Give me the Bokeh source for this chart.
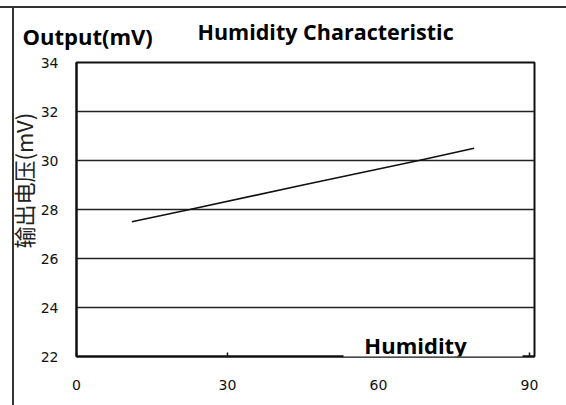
from bokeh.plotting import figure
from bokeh.models import Label, FixedTicker, Range1d, BoxAnnotation, Title
from bokeh.embed import file_html
from bokeh.resources import INLINE

# ---- data ----
humidity = [11, 22.5, 45, 68, 79]
output_mv = [27.5, 28.0, 29.0, 30.0, 30.5]
x_ticks = [0, 30, 60, 90]
y_ticks = [22, 24, 26, 28, 30, 32, 34]
title_text = "Humidity Characteristic"
y_title = "Output(mV)"
x_title = "Humidity"
y_axis_cn = "输出电压(mV)"

W, H = 566, 405
p = figure(width=W, height=H, output_backend="svg", toolbar_location=None,
           x_range=Range1d(0, 91), y_range=Range1d(22, 34),
           min_border_left=76, min_border_right=32, min_border_top=62,
           min_border_bottom=49)
# outer frame of the scanned figure: top and left edges only
p.styles = {
    "background-color": "white",
    "background-image": "linear-gradient(#333333, #333333), linear-gradient(#333333, #333333)",
    "background-size": "100% 2px, 2px 100%",
    "background-position": "0px 6px, 12px 6px",
    "background-repeat": "no-repeat",
}
p.background_fill_color = "white"
p.border_fill_color = None
p.outline_line_color = "#111111"
p.outline_line_width = 2

p.xgrid.grid_line_color = None
p.ygrid.grid_line_color = "#222222"
p.ygrid.grid_line_width = 1.6

p.xaxis.ticker = FixedTicker(ticks=x_ticks)
p.yaxis.ticker = FixedTicker(ticks=y_ticks)
for ax in (p.xaxis, p.yaxis):
    ax.axis_line_color = "#111111"
    ax.axis_line_width = 2
    ax.minor_tick_line_color = None
    ax.major_label_text_font = "DejaVu Sans"
    ax.major_label_text_font_size = "14px"
    ax.major_label_text_color = "#111111"
p.xaxis.major_tick_in = 4
p.xaxis.major_tick_out = 0
p.xaxis.major_tick_line_width = 1.5
p.xaxis.major_tick_line_color = "#111111"
p.xaxis.major_label_standoff = 23
p.yaxis.major_tick_line_color = None
p.yaxis.major_label_standoff = 12

# rotated Chinese axis caption on the left
p.add_layout(Title(text=y_axis_cn, align="left", offset=108, standoff=-2,
                   text_font="Noto Sans CJK SC", text_font_size="22px",
                   text_font_style="normal", text_color="#222222"), "left")

p.line(humidity, output_mv, line_color="#111111", line_width=1.7)

# white patch behind the x title
p.add_layout(BoxAnnotation(left=267, right=446, bottom=-14, top=33,
                           left_units="screen", right_units="screen",
                           bottom_units="screen", top_units="screen",
                           fill_color="white", fill_alpha=1.0, line_color=None))
p.add_layout(Label(x=339, y=12, x_units="screen", y_units="screen", text=x_title,
                   text_font="Open Sans", text_font_style="bold",
                   text_font_size="22px", text_align="center", text_baseline="middle",
                   text_color="black"))

p.add_layout(Label(x=-54, y=27, x_units="screen", y_units="screen", text=y_title,
                   text_font="Open Sans", text_font_style="bold",
                   text_font_size="22px", text_align="left", text_baseline="middle",
                   text_color="black"), "above")
p.add_layout(Label(x=121, y=1, x_units="screen", y_units="screen", text=title_text,
                   text_font="Open Sans", text_font_style="bold",
                   text_font_size="21.5px", text_align="left", text_baseline="middle",
                   text_color="black"), "above")

open("out.html", "w").write(file_html(p, INLINE))
